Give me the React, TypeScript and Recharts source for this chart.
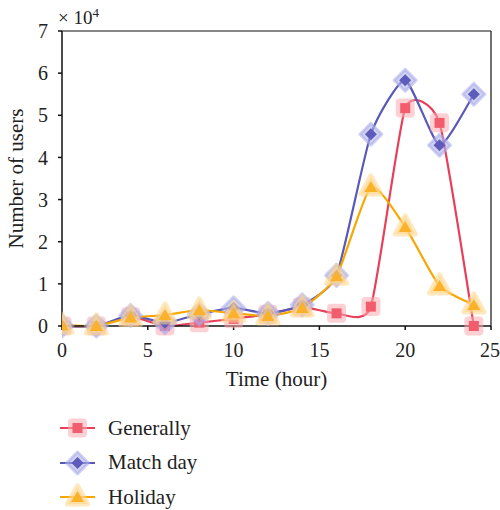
import { LineChart, Line, XAxis, YAxis, ReferenceLine } from 'recharts'

// hours of the day
const hours = [0, 2, 4, 6, 8, 10, 12, 14, 16, 18, 20, 22, 24]
// number of users, in units of 10^4
const generally = [0, 0, 0.22, 0, 0.08, 0.17, 0.28, 0.45, 0.3, 0.46, 5.17, 4.82, 0]
const matchDay = [0, 0, 0.25, 0.08, 0.28, 0.43, 0.3, 0.5, 1.2, 4.55, 5.83, 4.29, 5.5]
const holiday = [0.02, 0, 0.2, 0.26, 0.38, 0.3, 0.24, 0.43, 1.18, 3.3, 2.35, 0.95, 0.5]

const xTicks = [0, 5, 10, 15, 20, 25]
const yTicks = [0, 1, 2, 3, 4, 5, 6, 7]

const data = hours.map((h, i) => ({
  hour: h,
  generally: generally[i],
  matchDay: matchDay[i],
  holiday: holiday[i],
}))

const FONT = '"Liberation Serif", "DejaVu Serif", serif'
const TENSION = 0.45

// cardinal spline through every point, tangents damped by TENSION
function smoothCurve(context: any) {
  let pts: number[][] = []
  const k = (1 - TENSION) / 6
  return {
    areaStart() {},
    areaEnd() {},
    lineStart() {
      pts = []
    },
    point(x: number, y: number) {
      pts.push([+x, +y])
    },
    lineEnd() {
      if (!pts.length) return
      context.moveTo(pts[0][0], pts[0][1])
      for (let i = 0; i < pts.length - 1; i++) {
        const p0 = pts[i - 1] || pts[i]
        const p1 = pts[i]
        const p2 = pts[i + 1]
        const p3 = pts[i + 2] || p2
        context.bezierCurveTo(
          p1[0] + (p2[0] - p0[0]) * k,
          p1[1] + (p2[1] - p0[1]) * k,
          p2[0] - (p3[0] - p1[0]) * k,
          p2[1] - (p3[1] - p1[1]) * k,
          p2[0],
          p2[1],
        )
      }
    },
  }
}

type Shape = 'square' | 'diamond' | 'triangle'

function Marker({ cx, cy, shape, halo, core }: { cx: number; cy: number; shape: Shape; halo: string; core: string }) {
  if (shape === 'square') {
    return (
      <g>
        <rect x={cx - 9.5} y={cy - 9.5} width={19} height={19} rx={4} fill={halo} fillOpacity={0.55} />
        <rect x={cx - 5} y={cy - 5} width={10} height={10} fill={core} />
      </g>
    )
  }
  if (shape === 'diamond') {
    return (
      <g>
        <path
          d={`M${cx},${cy - 11} L${cx + 11},${cy} L${cx},${cy + 11} L${cx - 11},${cy} Z`}
          fill={halo}
          fillOpacity={0.55}
          stroke={halo}
          strokeOpacity={0.55}
          strokeWidth={3}
          strokeLinejoin="round"
        />
        <path d={`M${cx},${cy - 6} L${cx + 6},${cy} L${cx},${cy + 6} L${cx - 6},${cy} Z`} fill={core} />
      </g>
    )
  }
  return (
    <g>
      <path
        d={`M${cx},${cy - 11} L${cx + 10},${cy + 7} L${cx - 10},${cy + 7} Z`}
        fill={halo}
        fillOpacity={0.55}
        stroke={halo}
        strokeOpacity={0.55}
        strokeWidth={5}
        strokeLinejoin="round"
      />
      <path d={`M${cx},${cy - 6} L${cx + 6.5},${cy + 5} L${cx - 6.5},${cy + 5} Z`} fill={core} />
    </g>
  )
}

const series = [
  { key: 'generally', name: 'Generally', line: '#e8405a', halo: '#fba9b0', core: '#f25d6e', shape: 'square' as Shape },
  { key: 'matchDay', name: 'Match day', line: '#5a59b8', halo: '#a9acea', core: '#5d5cba', shape: 'diamond' as Shape },
  { key: 'holiday', name: 'Holiday', line: '#f7a800', halo: '#fdd58a', core: '#fbb22a', shape: 'triangle' as Shape },
]

export default function App() {
  return (
    <div style={{ position: 'absolute', left: 0, top: 0, width: 500, height: 510, background: '#fff', fontFamily: FONT }}>
      <div style={{ position: 'absolute', left: 58, top: 5, fontSize: 19, color: '#222' }}>
        × 10<sup style={{ fontSize: 13 }}>4</sup>
      </div>
      <LineChart width={500} height={400} data={data} margin={{ top: 31, right: 9, bottom: 14, left: 0 }}>
        <XAxis
          dataKey="hour"
          type="number"
          domain={[0, 25]}
          ticks={xTicks}
          allowDataOverflow
          height={60}
          stroke="#111"
          strokeWidth={1.5}
          tickSize={4}
          tickMargin={13}
          tick={{ fill: '#222', fontSize: 20, fontFamily: FONT }}
          label={{ value: 'Time (hour)', position: 'insideBottom', offset: 0, fill: '#222', fontSize: 21, fontFamily: FONT }}
        />
        <YAxis
          type="number"
          domain={[0, 7]}
          ticks={yTicks}
          width={62}
          stroke="#111"
          strokeWidth={1.5}
          tickSize={4}
          tickMargin={10}
          tick={{ fill: '#222', fontSize: 20, fontFamily: FONT }}
          label={{
            value: 'Number of users',
            angle: -90,
            position: 'insideLeft',
            offset: 16,
            textAnchor: 'middle',
            fill: '#222',
            fontSize: 21,
            fontFamily: FONT,
          }}
        />
        <ReferenceLine y={7} stroke="#111" strokeWidth={1.2} />
        <ReferenceLine x={25} stroke="#111" strokeWidth={1.2} />
        {series.map((s) => (
          <Line
            key={s.key}
            dataKey={s.key}
            type={smoothCurve as any}
            stroke={s.line}
            strokeWidth={2.2}
            isAnimationActive={false}
            dot={(p: any) => (
              <Marker key={`${s.key}-${p.index}`} cx={p.cx} cy={p.cy} shape={s.shape} halo={s.halo} core={s.core} />
            )}
            activeDot={false}
          />
        ))}
      </LineChart>
      <div style={{ position: 'absolute', left: 58, top: 411 }}>
        {series.map((s) => (
          <div key={s.key} style={{ display: 'flex', alignItems: 'center', height: 34.5 }}>
            <svg width={40} height={30}>
              <line x1={2} y1={15} x2={37} y2={15} stroke={s.line} strokeWidth={2.2} />
              <Marker cx={19.5} cy={15} shape={s.shape} halo={s.halo} core={s.core} />
            </svg>
            <span style={{ marginLeft: 10, fontSize: 21, color: '#222' }}>{s.name}</span>
          </div>
        ))}
      </div>
    </div>
  )
}
